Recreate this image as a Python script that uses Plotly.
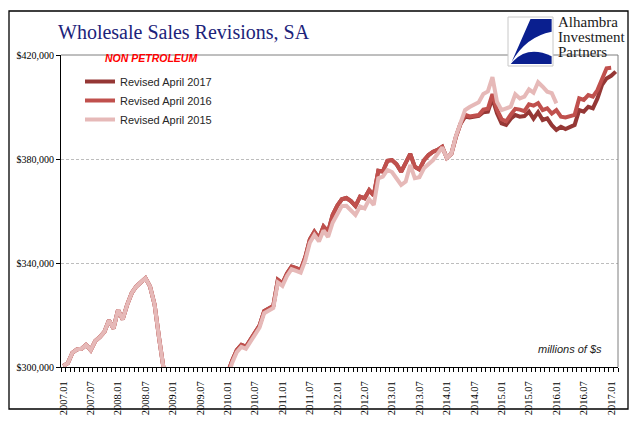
import plotly.graph_objects as go

# ---------------- data (values in thousands of $) ----------------
tick_labels = ["2007.01", "2007.07", "2008.01", "2008.07", "2009.01", "2009.07",
               "2010.01", "2010.07", "2011.01", "2011.07", "2012.01", "2012.07",
               "2013.01", "2013.07", "2014.01", "2014.07", "2015.01", "2015.07",
               "2016.01", "2016.07", "2017.01"]
years = list(range(2007, 2018))
months = [f"{y}.{m:02d}" for y in years for m in range(1, 13)][:122]  # 2007.01 .. 2017.02

# shared history 2007.01 .. 2014.04 (Revised April 2016 / April 2017)
shared_red = [300.4, 301.5, 305.5, 306.8, 307.0, 308.5, 306.5, 310.0, 311.5, 313.5, 318.0, 314.8,
              322.0, 318.3, 324.0, 328.5, 331.0, 332.8, 334.2, 331.0, 324.0, 311.0, 296.0, 287.0,
              280.0, 276.0, 274.0, 273.0, 272.5, 273.0, 274.0, 276.0, 279.0, 283.0, 288.0, 293.0,
              297.0, 302.5, 306.5, 308.5, 307.8, 310.5, 313.0, 316.0, 321.5, 322.5, 323.5, 333.5,
              332.2, 336.0, 338.6, 338.0, 337.3, 342.2, 349.0, 352.0, 349.5, 354.0, 352.0, 358.5,
              362.0, 364.5, 365.0, 363.8, 361.9, 365.5, 364.9, 368.0, 366.0, 375.5, 375.2, 379.3,
              379.6, 378.0, 375.1, 378.5, 382.0, 377.0, 376.0, 379.5, 381.5, 382.8, 383.5, 384.7,
              380.4, 382.0, 388.5, 393.5]

tail_2017 = [396.3, 396.0, 396.3, 396.6, 398.0, 398.2, 403.3, 397.6, 393.7, 393.1, 395.5, 396.9,
             396.3, 396.5, 398.2, 395.5, 398.0, 395.0, 395.6, 393.0, 391.2, 392.4, 391.5, 392.4,
             393.1, 398.8, 398.2, 400.1, 399.5, 403.3, 408.5, 411.0, 412.0, 413.6]

tail_2016 = [397.0, 396.4, 396.5, 396.9, 399.0, 399.3, 405.0, 399.0, 395.3, 394.5, 397.0, 399.3,
             399.0, 398.4, 401.0, 400.5, 401.5, 398.8, 399.5, 397.5, 398.8, 396.3, 396.0, 396.5,
             397.0, 403.3, 402.7, 404.6, 404.0, 406.5, 410.4, 414.9, 415.1]

rev_2015 = [300.4, 301.5, 305.5, 306.8, 307.0, 308.5, 306.5, 310.0, 311.5, 313.5, 318.0, 314.8,
            322.0, 318.3, 324.0, 328.5, 331.0, 332.8, 334.2, 331.0, 324.0, 311.0, 296.0, 287.0,
            280.0, 276.0, 274.0, 273.0, 272.5, 273.0, 274.0, 276.0, 279.0, 283.0, 288.0, 293.0,
            296.2, 301.7, 305.7, 307.7, 307.0, 309.7, 312.2, 315.2, 320.7, 321.7, 322.7, 332.5,
            331.2, 335.0, 337.6, 337.0, 336.3, 341.0, 347.8, 350.8, 348.3, 352.5, 350.0, 355.5,
            359.0, 361.9, 362.0, 360.5, 358.5, 361.7, 361.0, 364.5, 362.3, 372.6, 373.2, 375.8,
            375.0, 372.5, 370.0, 371.3, 377.7, 372.6, 373.0, 376.4, 378.0, 379.6, 382.0, 384.5,
            380.4, 382.0, 388.8, 394.0,
            398.8, 400.0, 400.8, 401.8, 405.0, 406.0, 411.5, 402.0, 398.8, 399.5, 400.1, 404.9,
            403.3, 404.0, 406.8, 405.5, 409.5, 407.8, 405.9, 405.3, 401.4]

rev_2017 = shared_red + tail_2017
rev_2016 = shared_red + tail_2016

y_ticks = [300000, 340000, 380000, 420000]
y_tick_text = ["$300,000", "$340,000", "$380,000", "$420,000"]

series = [
    ("Revised April 2017", rev_2017, "#953735"),
    ("Revised April 2016", rev_2016, "#C0504D"),
    ("Revised April 2015", rev_2015, "#E6B9B8"),
]

# ---------------- geometry helpers (page pixel -> paper) ----------------
OFF = 8                      # default body margin of the html page
W, H = 641 - OFF, 421 - OFF  # figure size in the page
L, R, T, B = 61, 618, 55, 367  # plot area in page pixels


def px(x):
    return (x - L) / (R - L)


def py(y):
    return (B - y) / (B - T)


fig = go.Figure()
for name, vals, color in series:
    fig.add_trace(go.Scatter(
        x=list(range(len(vals))), y=[v * 1000 for v in vals],
        mode="lines", name=name,
        line=dict(color=color, width=4),
        hoverinfo="skip",
    ))

tick_idx = [months.index(t) for t in tick_labels]

fig.update_layout(
    width=W, height=H,
    margin=dict(l=L - OFF, r=641 - R, t=T - OFF, b=421 - B, autoexpand=False),
    paper_bgcolor="white", plot_bgcolor="white",
    showlegend=True,
    legend=dict(x=px(80), y=py(67), xanchor="left", yanchor="top",
                bgcolor="rgba(0,0,0,0)", font=dict(family="Liberation Sans", size=11, color="#262626"),
                itemwidth=30, tracegroupgap=0),
    xaxis=dict(range=[-0.5, len(months) - 0.5], tickmode="array", tickvals=tick_idx,
               ticktext=tick_labels, tickangle=-90, ticks="",
               tickfont=dict(family="Liberation Serif", size=10.5, color="black"),
               showline=True, linecolor="black", linewidth=1, showgrid=False, zeroline=False,
               ticklabelstandoff=9,
               minor=dict(tickvals=[k - 0.5 for k in range(len(months) + 1)], ticks="outside",
                          ticklen=4, tickcolor="black", tickwidth=1, showgrid=False)),
    yaxis=dict(range=[300000, 420000], tickmode="array", tickvals=y_ticks, ticktext=y_tick_text,
               ticks="outside", ticklen=4, tickcolor="black",
               tickfont=dict(family="Liberation Serif", size=10, color="black"),
               showline=True, linecolor="black", linewidth=1, zeroline=False,
               showgrid=True, gridcolor="#bdbdbd", gridwidth=1, griddash="3px,2px"),
)

shapes = [
    # plot area top and right borders
    dict(type="line", xref="paper", yref="paper", x0=0, x1=1, y0=1, y1=1,
         line=dict(color="#7f7f7f", width=1)),
    dict(type="line", xref="paper", yref="paper", x0=1, x1=1, y0=0, y1=1,
         line=dict(color="#7f7f7f", width=1)),
    # outer frame
    dict(type="rect", xref="paper", yref="paper", x0=px(9), x1=px(628), y0=py(409), y1=py(11),
         line=dict(color="black", width=1.3), fillcolor="rgba(0,0,0,0)", layer="above"),
    # logo box
    dict(type="rect", xref="paper", yref="paper", x0=px(508), x1=px(553), y0=py(66), y1=py(17),
         line=dict(color="#c8c8c8", width=1), fillcolor="white", layer="above"),
]

bx0, bx1, by0, by1 = 508, 553, 17, 66


def lp(u, v):
    return f"{px(bx0 + u * (bx1 - bx0)):.5f},{py(by0 + v * (by1 - by0)):.5f}"


upper = (f"M {lp(0.50, 0.04)} L {lp(0.97, 0.04)} L {lp(0.97, 0.30)} "
         f"Q {lp(0.40, 0.40)} {lp(0.08, 0.92)} Z")
lower = (f"M {lp(0.06, 0.96)} L {lp(0.97, 0.96)} L {lp(0.97, 0.80)} "
         f"Q {lp(0.45, 0.58)} {lp(0.12, 0.90)} Z")
for p in (upper, lower):
    shapes.append(dict(type="path", xref="paper", yref="paper", path=p,
                       fillcolor="#0a1f8f", line=dict(width=0), layer="above"))

fig.update_layout(shapes=shapes)

ann = [
    dict(text="Wholesale Sales Revisions, SA", x=px(56), y=py(32), xanchor="left", yanchor="middle",
         font=dict(family="Liberation Serif", size=20, color="#1c237a")),
    dict(text="Alhambra", x=px(556), y=py(22), xanchor="left", yanchor="middle",
         font=dict(family="Liberation Serif", size=15, color="#1a1a1a")),
    dict(text="Investment", x=px(556), y=py(37), xanchor="left", yanchor="middle",
         font=dict(family="Liberation Serif", size=15, color="#1a1a1a")),
    dict(text="Partners", x=px(556), y=py(52), xanchor="left", yanchor="middle",
         font=dict(family="Liberation Serif", size=15, color="#1a1a1a")),
    dict(text="<b><i>NON PETROLEUM</i></b>", x=px(151), y=py(58), xanchor="center", yanchor="middle",
         font=dict(family="Liberation Sans", size=10.5, color="#ff0000")),
    dict(text="<i>millions of $s</i>", x=px(570), y=py(349), xanchor="center", yanchor="middle",
         font=dict(family="Liberation Sans", size=11, color="#222222")),
]
for a in ann:
    a.update(xref="paper", yref="paper", showarrow=False)
fig.update_layout(annotations=ann)

fig.write_html("out.html")
